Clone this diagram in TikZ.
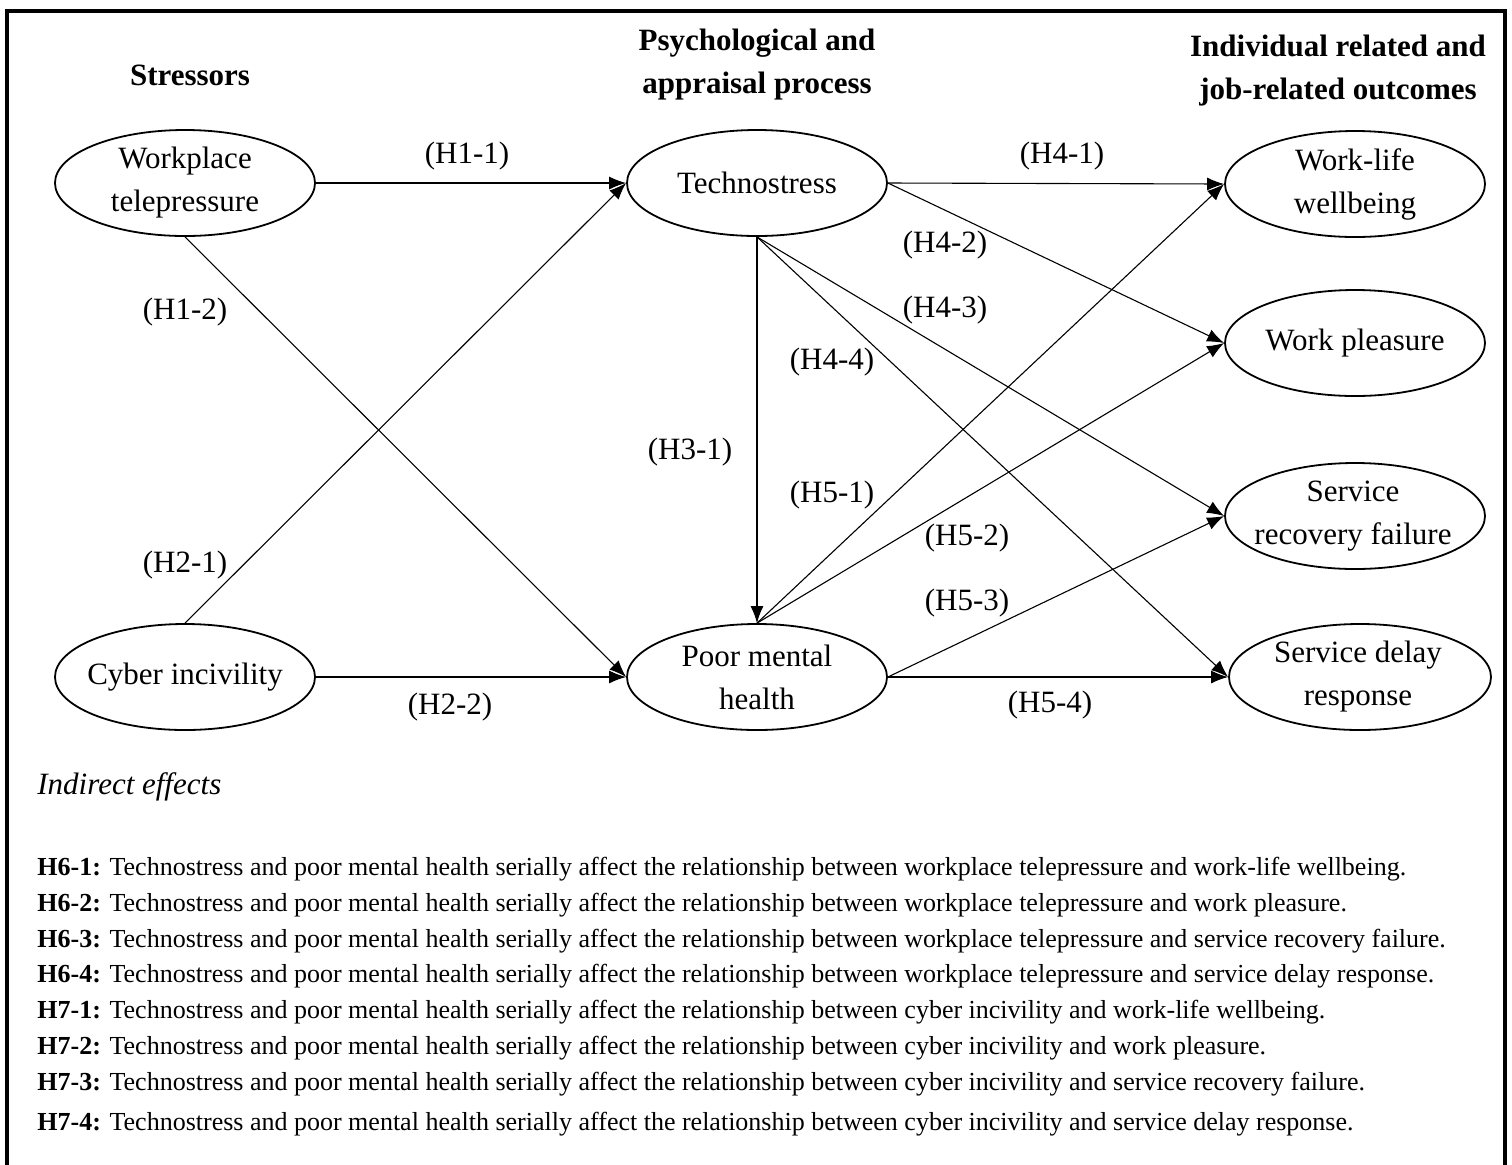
\documentclass[tikz,border=0pt]{standalone}
\usepackage{fontspec}
\setmainfont{Liberation Serif}
\usetikzlibrary{shapes.geometric,arrows.meta}
\begin{document}
\begin{tikzpicture}[x=0.5pt,y=-0.5pt,
  var/.style={draw,ellipse,line width=0.9pt,minimum width=130pt,minimum height=53pt,inner sep=0pt},
  vtext/.style={align=center,inner sep=0pt,font=\fontsize{15.5}{21.5}\selectfont},
  hyp/.style={font=\fontsize{15.5}{18}\selectfont,inner sep=0pt},
  head/.style={font=\bfseries\fontsize{15.5}{21.5}\selectfont,align=center,inner sep=0pt},
  conn/.style={line width=0.55pt,-{Latex[length=8.5pt,width=6.5pt]}},
  body/.style={anchor=west,inner sep=0pt,font=\fontsize{13}{15}\selectfont}]
\useasboundingbox (0,0) rectangle (1512,1164);
\fill[white] (0,0) rectangle (1512,1164);
% frame
\draw[line width=2pt] (7,1170) -- (7,11) -- (1505,11) -- (1505,1170);
% headers
\node[head] (h1) at (190,75) {Stressors};
\node[head] (h2) at (757,65) {Psychological and\\appraisal process};
\node[head] (h3) at (1338,71) {Individual related and\\job-related outcomes};
% variables
\node[var] (wt) at (185,183) {};
\node[var] (ci) at (185,677) {};
\node[var] (ts) at (757,183) {};
\node[var] (pmh) at (757,677) {};
\node[var] (wlw) at (1355,184) {};
\node[var] (wp) at (1355,343) {};
\node[var] (srf) at (1355,516) {};
\node[var,minimum width=131pt] (sdr) at (1360,677) {};
\node[vtext] (wtt) at (wt) {Workplace\\telepressure};
\node[vtext] (cit) at (ci) {Cyber incivility};
\node[vtext] (tst) at (ts) {Technostress};
\node[vtext] (pmht) at (pmh) {Poor mental\\health};
\node[vtext] (wlwt) at (wlw) {Work-life\\wellbeing};
\node[vtext] (wpt) at (wp) {Work pleasure};
\node[vtext] (srft) at (1353,516) {Service\\recovery failure};
\node[vtext] (sdrt) at (1358,677) {Service delay\\response};
% connectors
\draw[conn] (wt.east) -- (ts.west);
\draw[conn] (wt.south) -- (pmh.west);
\draw[conn] (ci.north) -- (ts.west);
\draw[conn] (ci.east) -- (pmh.west);
\draw[conn] (ts.south) -- (pmh.north);
\draw[conn] (ts.east) -- (wlw.west);
\draw[conn] (ts.east) -- (wp.west);
\draw[conn] (ts.south) -- (srf.west);
\draw[conn] (ts.south) -- (sdr.west);
\draw[conn] (pmh.north) -- (wlw.west);
\draw[conn] (pmh.north) -- (wp.west);
\draw[conn] (pmh.east) -- (srf.west);
\draw[conn] (pmh.east) -- (sdr.west);
% hypothesis labels
\node[hyp] (l11) at (467,156) {(H1-1)};
\node[hyp] (l12) at (185,312) {(H1-2)};
\node[hyp] (l21) at (185,565) {(H2-1)};
\node[hyp] (l22) at (450,707) {(H2-2)};
\node[hyp] (l31) at (690,452) {(H3-1)};
\node[hyp] (l41) at (1062,156) {(H4-1)};
\node[hyp] (l42) at (945,245) {(H4-2)};
\node[hyp] (l43) at (945,310) {(H4-3)};
\node[hyp] (l44) at (832,362) {(H4-4)};
\node[hyp] (l51) at (832,495) {(H5-1)};
\node[hyp] (l52) at (967,538) {(H5-2)};
\node[hyp] (l53) at (967,603) {(H5-3)};
\node[hyp] (l54) at (1050,705) {(H5-4)};
% indirect effects
\node[anchor=west,inner sep=0pt,font=\itshape\fontsize{15.5}{18}\selectfont] (ind) at (37,787) {Indirect effects};
\node[body] (t1) at (37,869) {\textbf{H6-1:} Technostress and poor mental health serially affect the relationship between workplace telepressure and work-life wellbeing.};
\node[body] (t2) at (37,905) {\textbf{H6-2:} Technostress and poor mental health serially affect the relationship between workplace telepressure and work pleasure.};
\node[body] (t3) at (37,941) {\textbf{H6-3:} Technostress and poor mental health serially affect the relationship between workplace telepressure and service recovery failure.};
\node[body] (t4) at (37,976) {\textbf{H6-4:} Technostress and poor mental health serially affect the relationship between workplace telepressure and service delay response.};
\node[body] (t5) at (37,1012) {\textbf{H7-1:} Technostress and poor mental health serially affect the relationship between cyber incivility and work-life wellbeing.};
\node[body] (t6) at (37,1048) {\textbf{H7-2:} Technostress and poor mental health serially affect the relationship between cyber incivility and work pleasure.};
\node[body] (t7) at (37,1084) {\textbf{H7-3:} Technostress and poor mental health serially affect the relationship between cyber incivility and service recovery failure.};
\node[body] (t8) at (37,1124) {\textbf{H7-4:} Technostress and poor mental health serially affect the relationship between cyber incivility and service delay response.};
\end{tikzpicture}
\end{document}
